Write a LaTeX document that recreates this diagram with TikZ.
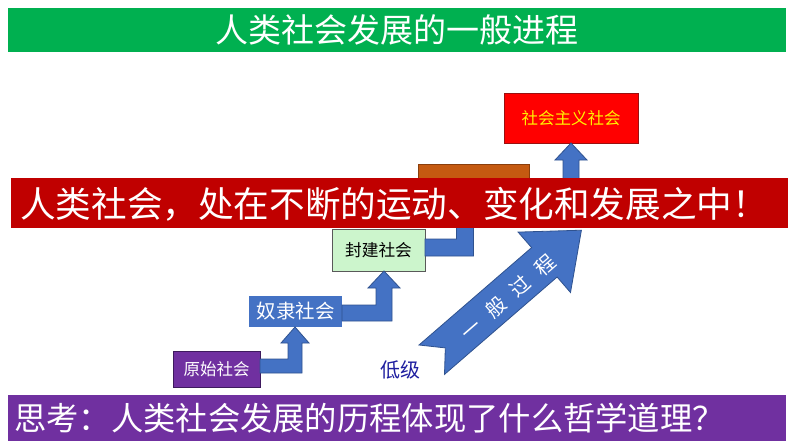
\documentclass[tikz,border=0pt]{standalone}
\usepackage{fontspec}
\setmainfont{Noto Sans CJK SC}
\usetikzlibrary{calc}
\definecolor{tgreen}{HTML}{00B050}
\definecolor{bred}{HTML}{C00000}
\definecolor{pred}{HTML}{FF0000}
\definecolor{pdred}{HTML}{9A1010}
\definecolor{porange}{HTML}{C55A11}
\definecolor{pdorange}{HTML}{8A3E0C}
\definecolor{pblue}{HTML}{4472C4}
\definecolor{pbluedark}{HTML}{2F528F}
\definecolor{ppurple}{HTML}{7030A0}
\definecolor{pdpurple}{HTML}{3E1A5E}
\definecolor{plgreen}{HTML}{CCF5CC}
\definecolor{dblue}{HTML}{1F1FA0}
\definecolor{pyellow}{HTML}{FFF200}
\newcommand\fs[1]{\fontsize{#1}{#1}\selectfont}
\tikzset{
  boxnode/.style={inner sep=0pt, outer sep=0pt, line width=0.8pt},
  arrowshape/.style={fill=pblue, draw=pbluedark, line width=0.8pt, line join=miter},
}
% #1 start coordinate, #2 tip coordinate, #3 half shaft width, #4 half head width, #5 head length
\newcommand\bentup[5]{%
  \filldraw[arrowshape] ($(#1)+(0,-#3)$) -- ($(#2 |- #1)+(-#3,-#3)$) -- ($(#2)+(-#3,#5)$)
    -- ($(#2)+(-#4,#5)$) -- (#2) -- ($(#2)+(#4,#5)$) -- ($(#2)+(#3,#5)$)
    -- ($(#2 |- #1)+(#3,#3)$) -- ($(#1)+(0,#3)$) -- cycle;}
\begin{document}
\begin{tikzpicture}[x=1pt,y=-1pt]
\useasboundingbox (0,0) rectangle (794,447);
\fill[white] (0,0) rectangle (794,447);
% title bar
\node[boxnode, fill=tgreen, minimum width=778, minimum height=44, text=white] (title) at (397,30) {\fs{33}人类社会发展的一般进程};
% socialist society box
\node[boxnode, fill=pred, draw=pdred, minimum width=134, minimum height=50, text=pyellow] (shehui) at (571,118) {\fs{16.5}社会主义社会};
% orange (capitalist) box, mostly hidden
\node[boxnode, fill=porange, draw=pdorange, minimum width=111, minimum height=42] (ziben) at (473.5,185) {};
\coordinate (a4s) at ($(ziben.east)+(0,3)$);
\coordinate (a4x) at (571,0);
\coordinate (a4t) at (a4x |- shehui.south);
\bentup{a4s}{a4t}{8}{16}{17}
% big diagonal arrow
\filldraw[arrowshape] (419.0,345.0) -- (531.6,247.6) -- (518.1,232.1) -- (581.4,230.2)
  -- (570.5,292.5) -- (557.1,277.0) -- (444.5,374.4) -- (445.3,347.9) -- cycle;
\node[text=white, rotate=40.9, inner sep=0pt] (guocheng) at (508,297) {\fs{20}一\hspace{12.5pt}般\hspace{12.5pt}过\hspace{12.5pt}程};
% feudal society
\node[boxnode, fill=plgreen, draw=black!65, minimum width=93, minimum height=42, text=black] (fengjian) at (378.5,250) {\fs{16.7}封建社会};
\coordinate (a3s) at ($(fengjian.east)+(0,-2.5)$);
\coordinate (a3x) at (465,0);
\coordinate (a3t) at (a3x |- ziben.south);
\bentup{a3s}{a3t}{8.5}{17}{17}
% banner
\node[boxnode, fill=bred, minimum width=777, minimum height=50] (banner) at (399.5,203) {};
\node[text=white, inner sep=0pt] (bannertext) at (394,204) {\fs{35.6}人类社会，处在不断的运动、变化和发展之中！};
% slave society
\node[boxnode, fill=pblue, minimum width=93, minimum height=31, text=white] (nuli) at (295.5,311.5) {\fs{19.5}奴隶社会};
% primitive society
\node[boxnode, fill=ppurple, draw=pdpurple, minimum width=87, minimum height=36, text=white] (yuanshi) at (216.5,369) {\fs{16.5}原始社会};
\coordinate (a1s) at ($(yuanshi.east)+(0,-3)$);
\coordinate (a1x) at (295,0);
\coordinate (a1t) at (a1x |- nuli.south);
\bentup{a1s}{a1t}{7}{14}{16}
\coordinate (a2s) at ($(nuli.east)+(0,1.5)$);
\coordinate (a2x) at (384,0);
\coordinate (a2t) at (a2x |- fengjian.south);
\bentup{a2s}{a2t}{8}{16}{17}
% low level label
\node[text=dblue, inner sep=0pt] (diji) at (400,370) {\fs{20}低级};
% bottom bar
\node[boxnode, fill=ppurple, minimum width=778, minimum height=46] (sikao) at (397,418) {};
\node[text=white, inner sep=0pt, anchor=west] (sikaotext) at ($(sikao.west)+(6,0.5)$) {\fs{32.3}思考：人类社会发展的历程体现了什么哲学道理？};
\end{tikzpicture}
\end{document}
